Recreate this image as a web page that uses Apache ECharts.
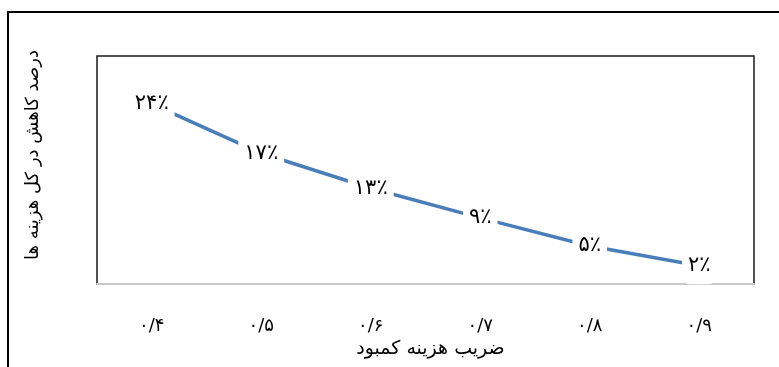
<!DOCTYPE html>
<html><head><meta charset="utf-8">
<script src="https://cdn.jsdelivr.net/npm/echarts@6/dist/echarts.min.js"></script>
<style>html,body{margin:0;padding:0;background:#fff}#c{width:779px;height:367px}</style>
</head><body><div id="c"></div>
<script>
var categories = ['۰/۴','۰/۵','۰/۶','۰/۷','۰/۸','۰/۹'];
var reduction = [0.237, 0.172, 0.126, 0.087, 0.050, 0.024];
var xTitle = 'ضریب هزینه کمبود';
var yTitle = 'درصد کاهش در کل هزینه ها';
var yMin = 0, yMax = 0.3;

function fa(n){ return String(n).replace(/[0-9]/g, function(d){ return '۰۱۲۳۴۵۶۷۸۹'[+d]; }); }
var FONT = '"DejaVu Sans", sans-serif';
var chart = echarts.init(document.getElementById('c'), null, {renderer:'canvas'});
chart.setOption({
  animation:false,
  backgroundColor:'#fff',
  grid:{left:97, top:56, right:25, bottom:83, show:true, borderColor:'#1a1a1a', borderWidth:1.5, backgroundColor:'transparent'},
  xAxis:{type:'category', data:categories, boundaryGap:true,
    axisLine:{show:true, lineStyle:{color:'#c8c8c8', width:2}},
    axisTick:{show:false},
    axisLabel:{margin:33, fontFamily:FONT, fontSize:18, color:'#000'},
    name:xTitle, nameLocation:'middle', nameGap:48,
    nameTextStyle:{fontFamily:FONT, fontSize:19, color:'#000', padding:[0,0,0,10]}
  },
  yAxis:{type:'value', min:yMin, max:yMax, axisLine:{show:false}, axisTick:{show:false}, axisLabel:{show:false}, splitLine:{show:false}},
  graphic:[
    {type:'rect', shape:{x:8, y:12, width:775, height:400}, style:{fill:'none', stroke:'#000', lineWidth:2}, silent:true, z:-1},
    {type:'text', x:33, y:155, rotation:Math.PI/2, style:{text:yTitle, font:'18px "DejaVu Sans"', fill:'#000', textAlign:'center', textVerticalAlign:'middle'}}
  ],
  series:[{type:'line', data:reduction, symbol:'circle', symbolSize:1, showSymbol:true,
    itemStyle:{color:'rgba(0,0,0,0)'},
    lineStyle:{color:'#4a7ebb', width:3.5},
    label:{show:true, position:'inside', fontFamily:FONT, fontSize:21, color:'#000', backgroundColor:'#fff', padding:[8,6], borderRadius:8,
      formatter:function(p){ return '\u200E' + fa(Math.round(p.value*100)) + '٪'; }}
  }]
});
</script></body></html>
